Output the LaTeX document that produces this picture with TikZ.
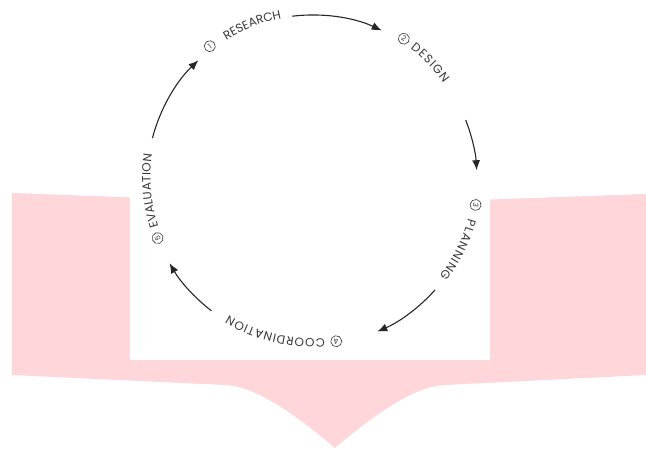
\documentclass[tikz,border=0pt]{standalone}
\usepackage{fontspec}
\setmainfont{Poppins}
\usetikzlibrary{arrows.meta,decorations.text}
\definecolor{blush}{RGB}{255,214,218}
\definecolor{ink}{RGB}{55,55,55}
\newcommand{\ringfont}{\fontsize{12}{14}\selectfont}
\tikzset{
  flow/.style={-{Latex[length=10pt,width=8pt]}, line width=1.1pt, black!85},
  num/.style={circle, draw=ink, line width=0.6pt, inner sep=0.5pt, minimum size=11pt,
    font=\fontsize{7.5}{8}\selectfont, text=ink},
  ringtext/.style={decorate, decoration={text along path, text={|\ringfont|#1},
    text align=fit to path, text color=ink}}
}
\begin{document}
\begin{tikzpicture}[x=1pt,y=1pt]
  \useasboundingbox (0,0) rectangle (646,448);
  \fill[blush] (12,255) -- (335,243) -- (646,254) -- (646,73) -- (445,63)
    .. controls (415,62) and (375,34) .. (335,0)
    .. controls (295,34) and (255,62) .. (225,63) -- (12,73) -- cycle;
  \fill[white] (130,88) rectangle (490,448);
  \coordinate (hub) at (312,268);
  \coordinate (ring) at (312,271);
  % stage numbers
  \node[num,rotate=38]     (n1) at ([shift={(128:166)}]ring) {1};
  \node[num,rotate=-33.6]  (n2) at ([shift={(56.4:166)}]ring) {2};
  \node[num,rotate=-99.7]  (n3) at ([shift={(-9.7:166)}]ring) {3};
  \node[num,rotate=-171.6] (n4) at ([shift={(-81.6:166)}]ring) {4};
  \node[num,rotate=111.6]  (n5) at ([shift={(201.6:166)}]ring) {5};
  % stage names
  \path[ringtext=RESEARCH] ([shift={(122:161.5)}]ring)
    arc[start angle=122, end angle=101, radius=161.5];
  \path[ringtext=DESIGN] ([shift={(52.5:161.5)}]ring)
    arc[start angle=52.5, end angle=35.5, radius=161.5];
  \path[ringtext=PLANNING] ([shift={(-15:161.5)}]ring)
    arc[start angle=-15, end angle=-38, radius=161.5];
  \path[ringtext=COORDINATION] ([shift={(-85.5:161.5)}]ring)
    arc[start angle=-85.5, end angle=-121, radius=161.5];
  \path[ringtext=EVALUATION] ([shift={(198:161.5)}]ring)
    arc[start angle=198, end angle=172, radius=161.5];
  % arrows
  \draw[flow] ([shift={(165.3:165)}]hub) arc[start angle=165.3, end angle=133.5, radius=165];
  \draw[flow] ([shift={(96.9:165)}]hub) arc[start angle=96.9, end angle=65, radius=165];
  \draw[flow] ([shift={(21.3:165)}]hub) arc[start angle=21.3, end angle=3.4, radius=165];
  \draw[flow] ([shift={(-41.8:165)}]hub) arc[start angle=-41.8, end angle=-66.7, radius=165];
  \draw[flow] ([shift={(232.4:165)}]hub) arc[start angle=232.4, end angle=210.3, radius=165];
\end{tikzpicture}
\end{document}
